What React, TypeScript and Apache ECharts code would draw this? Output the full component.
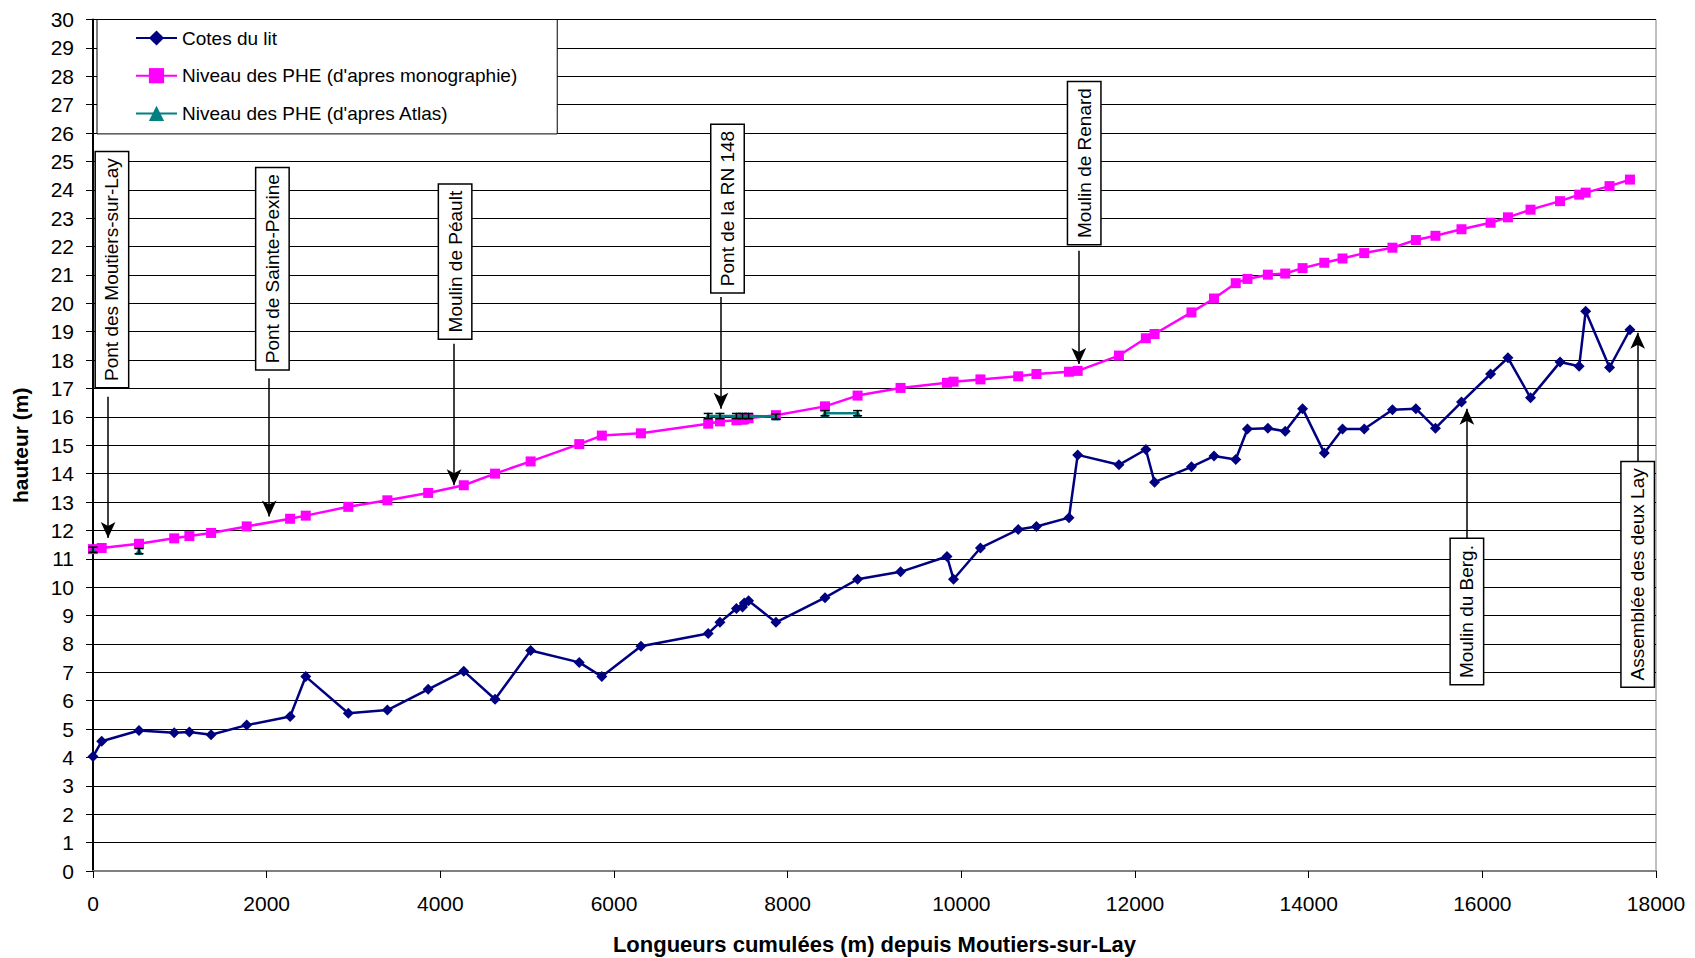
import React, { useEffect, useRef } from "react";
import * as echarts from "echarts";

const FONT = '"Liberation Sans", Arial, Helvetica, sans-serif';

// Distances cumulées (m)
const distances = [
  0, 100, 530, 935, 1110, 1360, 1770, 2270, 2450, 2940,
  3390, 3860, 4270, 4630, 5040, 5600, 5860, 6310, 7085, 7220,
  7410, 7480, 7500, 7550, 7865, 8430, 8805, 9300, 9835, 9910,
  10220, 10655, 10865, 11240, 11340, 11815, 12125, 12225, 12650, 12910,
  13160, 13295, 13530, 13730, 13930, 14180, 14390, 14640, 14965, 15235,
  15460, 15760, 16095, 16295, 16555, 16895, 17115, 17190, 17465, 17700,
];

// Cotes du lit (m)
const cotesLit = [
  4.03, 4.57, 4.95, 4.87, 4.9, 4.8, 5.14, 5.44, 6.85, 5.56,
  5.67, 6.4, 7.04, 6.05, 7.77, 7.35, 6.85, 7.92, 8.37, 8.76,
  9.25, 9.3, 9.44, 9.52, 8.76, 9.63, 10.28, 10.54, 11.08, 10.28,
  11.38, 12.03, 12.14, 12.45, 14.66, 14.31, 14.85, 13.7, 14.24, 14.62,
  14.5, 15.57, 15.6, 15.49, 16.29, 14.73, 15.57, 15.57, 16.25, 16.29,
  15.6, 16.52, 17.51, 18.08, 16.67, 17.93, 17.78, 19.72, 17.74, 19.07,
];

// Niveau des PHE (d'apres monographie)
const pheMonographie = [
  11.34, 11.38, 11.53, 11.72, 11.8, 11.91, 12.14, 12.41, 12.52, 12.83,
  13.06, 13.32, 13.59, 14.0, 14.43, 15.04, 15.34, 15.42, 15.76, 15.84,
  15.88, 15.9, 15.92, 15.95, 16.06, 16.37, 16.75, 17.02, 17.2, 17.24,
  17.32, 17.43, 17.51, 17.59, 17.62, 18.16, 18.77, 18.92, 19.68, 20.17,
  20.71, 20.86, 21.01, 21.05, 21.24, 21.43, 21.58, 21.77, 21.96, 22.23,
  22.38, 22.61, 22.84, 23.03, 23.3, 23.6, 23.83, 23.9, 24.13, 24.36,
];

// Niveau des PHE (d'apres Atlas) — points grouped in separate line segments
const atlasX = [0, 530, 7085, 7220, 7410, 7480, 7550, 7865, 8430, 8805];
const atlasY = [11.32, 11.27, 16.03, 16.03, 16.03, 16.03, 16.03, 16.01, 16.13, 16.13];
const atlasSegment = [0, 1, 2, 2, 2, 2, 2, 2, 3, 3];
const atlasError = 0.09;

const xTicks = { min: 0, max: 18000, interval: 2000 };
const yTicks = { min: 0, max: 30, interval: 1 };

const SERIES_NAMES = [
  "Cotes du lit",
  "Niveau des PHE (d'apres monographie)",
  "Niveau des PHE (d'apres Atlas)",
];

// Annotations: box center (data coords) and arrow (data coords)
const annotationLabels = [
  "Pont des Moutiers-sur-Lay",
  "Pont de Sainte-Pexine",
  "Moulin de Péault",
  "Pont de la RN 148",
  "Moulin de Renard",
  "Moulin du Berg.",
  "Assemblée des deux Lay",
];
const annotationBoxX = [218, 2066, 4170, 7307, 11415, 15822, 17789];
const annotationBoxY = [21.19, 21.22, 21.47, 23.34, 24.94, 9.14, 10.45];
const arrowX = [174, 2029, 4158, 7232, 11353, 15822, 17789];
const arrowFromY = [16.71, 17.36, 18.58, 20.22, 21.85, 11.73, 14.43];
const arrowToY = [11.73, 12.49, 13.59, 16.29, 17.86, 16.29, 18.96];

export default function App() {
  const ref = useRef<HTMLDivElement>(null);

  useEffect(() => {
    if (!ref.current) return;
    const chart = echarts.init(ref.current, null, { renderer: "svg" });

    const lineData = (ys: number[]) => distances.map((x, i) => [x, ys[i]]);

    const atlasData: any[] = [];
    atlasX.forEach((x, i) => {
      if (i > 0 && atlasSegment[i] !== atlasSegment[i - 1]) {
        atlasData.push([(atlasX[i - 1] + x) / 2, "-"]);
      }
      atlasData.push([x, atlasY[i]]);
    });

    const arrows = arrowX.map((x, i) => [
      { coord: [x, arrowFromY[i]] },
      { coord: [x, arrowToY[i]] },
    ]);

    const option: any = {
      animation: false,
      backgroundColor: "#ffffff",
      textStyle: { fontFamily: FONT, color: "#000" },
      grid: {
        left: 93,
        right: 39,
        top: 19.5,
        bottom: 87,
        containLabel: false,
        outerBoundsMode: "none",
        show: true,
        borderColor: "#808080",
        borderWidth: 1,
        backgroundColor: "#ffffff",
      },
      legend: {
        data: SERIES_NAMES,
        orient: "vertical",
        left: 97,
        top: 19.5,
        itemWidth: 41,
        itemHeight: 19,
        itemGap: 18.7,
        padding: [9, 40, 11, 38],
        backgroundColor: "#ffffff",
        borderColor: "#000000",
        borderWidth: 1,
        textStyle: { fontFamily: FONT, fontSize: 19, color: "#000" },
        z: 20,
      },
      xAxis: {
        type: "value",
        ...xTicks,
        name: "Longueurs cumulées (m) depuis Moutiers-sur-Lay",
        nameLocation: "middle",
        nameGap: 62,
        nameTextStyle: { fontFamily: FONT, fontSize: 22, fontWeight: "bold", color: "#000" },
        axisLine: { show: true, onZero: false, lineStyle: { color: "#808080", width: 2 } },
        axisTick: { show: true, inside: false, length: 7, lineStyle: { color: "#000", width: 1 } },
        axisLabel: {
          fontFamily: FONT,
          fontSize: 21,
          color: "#000",
          margin: 22,
          formatter: (v: number) => String(v),
        },
        splitLine: { show: false },
      },
      yAxis: {
        type: "value",
        ...yTicks,
        name: "hauteur (m)",
        nameLocation: "middle",
        nameRotate: 90,
        nameGap: 62,
        nameTextStyle: { fontFamily: FONT, fontSize: 21, fontWeight: "bold", color: "#000" },
        axisLine: { show: true, onZero: false, lineStyle: { color: "#000", width: 2 } },
        axisTick: { show: true, inside: false, length: 7, lineStyle: { color: "#000", width: 1 } },
        axisLabel: {
          fontFamily: FONT,
          fontSize: 21,
          color: "#000",
          margin: 19,
          formatter: (v: number) => String(v),
        },
        splitLine: { show: true, lineStyle: { color: "#000", width: 1 } },
      },
      series: [
        {
          name: SERIES_NAMES[0],
          type: "line",
          data: lineData(cotesLit),
          symbol: "diamond",
          symbolSize: 11,
          showAllSymbol: true,
          lineStyle: { color: "#000080", width: 2.5 },
          itemStyle: { color: "#000080" },
          z: 3,
          markLine: {
            silent: true,
            symbol: ["none", "arrow"],
            symbolSize: [11, 16],
            label: { show: false },
            lineStyle: { color: "#000", width: 1.5, type: "solid" },
            data: arrows,
            animation: false,
          },
        },
        {
          name: SERIES_NAMES[1],
          type: "line",
          data: lineData(pheMonographie),
          symbol: "rect",
          symbolSize: 10,
          showAllSymbol: true,
          lineStyle: { color: "#ff00ff", width: 2.5 },
          itemStyle: { color: "#ff00ff" },
          z: 4,
        },
        {
          name: SERIES_NAMES[2],
          type: "line",
          data: atlasData,
          connectNulls: false,
          symbol: "triangle",
          symbolSize: 8,
          showAllSymbol: true,
          lineStyle: { color: "#008080", width: 2.5 },
          itemStyle: { color: "#008080" },
          z: 5,
        },
        {
          name: "atlas-errors",
          type: "custom",
          data: atlasX.map((x, i) => [x, atlasY[i] - atlasError, atlasY[i] + atlasError]),
          encode: { x: 0, y: [1, 2] },
          z: 6,
          silent: true,
          renderItem: (params: any, api: any) => {
            const x = api.value(0);
            const lo = api.coord([x, api.value(1)]);
            const hi = api.coord([x, api.value(2)]);
            const w = 4.5;
            const st = { stroke: "#000", lineWidth: 1.5 };
            return {
              type: "group",
              children: [
                { type: "line", shape: { x1: lo[0], y1: lo[1], x2: hi[0], y2: hi[1] }, style: st },
                { type: "line", shape: { x1: lo[0] - w, y1: lo[1], x2: lo[0] + w, y2: lo[1] }, style: st },
                { type: "line", shape: { x1: hi[0] - w, y1: hi[1], x2: hi[0] + w, y2: hi[1] }, style: st },
              ],
            };
          },
        },
      ],
    };

    chart.setOption(option);

    const graphics = annotationLabels.map((label, i) => {
      const p = chart.convertToPixel({ gridIndex: 0 } as any, [annotationBoxX[i], annotationBoxY[i]]) as number[];
      return {
        type: "text",
        x: p[0],
        y: p[1],
        rotation: Math.PI / 2,
        z: 30,
        style: {
          text: label,
          fontFamily: FONT,
          fontSize: 19,
          fill: "#000",
          align: "center",
          verticalAlign: "middle",
          backgroundColor: "#ffffff",
          borderColor: "#000000",
          borderWidth: 1.5,
          padding: [7, 6, 6, 6],
        },
      };
    });
    chart.setOption({ graphic: graphics });

    return () => chart.dispose();
  }, []);

  return (
    <div
      ref={ref}
      style={{ position: "absolute", left: 0, top: 0, width: 1695, height: 958 }}
    />
  );
}
